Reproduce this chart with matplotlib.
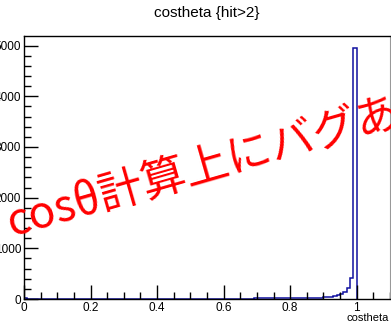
import matplotlib

matplotlib.use("Agg")
import matplotlib.pyplot as plt
from matplotlib.ticker import MultipleLocator

# histogram of costheta, 0.01 wide bins from 0 to 1
BIN_LEFT = 0.0
BIN_WIDTH = 0.01
COUNTS = [
    18, 4, 3, 3, 3, 3, 3, 2, 3, 3,
    3, 3, 3, 3, 3, 3, 3, 3, 3, 3,
    3, 3, 4, 3, 3, 4, 3, 4, 3, 4,
    4, 4, 4, 4, 4, 4, 4, 5, 4, 5,
    5, 5, 5, 5, 5, 5, 5, 6, 5, 6,
    6, 6, 6, 6, 6, 7, 6, 7, 7, 7,
    7, 7, 8, 8, 8, 8, 9, 9, 9, 10,
    10, 10, 11, 11, 12, 12, 13, 13, 14, 15,
    15, 16, 17, 18, 19, 20, 22, 24, 26, 28,
    32, 38, 45, 55, 75, 100, 145, 210, 420, 4950,
]
TITLE = "costheta {hit>2}"
XLABEL = "costheta"
NOTE = "cosθ計算上にバグあり"

plt.rcParams["font.family"] = ["Liberation Sans", "DejaVu Sans"]

fig = plt.figure(figsize=(3.91, 3.27), dpi=100)
ax = fig.add_axes([24 / 391, 28 / 327, 366 / 391, 263 / 327])

edges = [BIN_LEFT + BIN_WIDTH * i for i in range(len(COUNTS) + 1)]
ax.stairs(COUNTS, edges, color="#1010a0", linewidth=1.1)

ax.set_xlim(0, 1.1)
ax.set_ylim(0, 5190)
ax.xaxis.set_major_locator(MultipleLocator(0.2))
ax.xaxis.set_minor_locator(MultipleLocator(0.05))
ax.yaxis.set_major_locator(MultipleLocator(1000))
ax.yaxis.set_minor_locator(MultipleLocator(200))
ax.xaxis.set_major_formatter(plt.FuncFormatter(lambda v, p: "{:g}".format(round(v, 2))))
ax.tick_params(direction="in", which="major", length=10, width=1, labelsize=8.5, pad=2)
ax.tick_params(direction="in", which="minor", length=5, width=1)
for side in ["left", "bottom", "top"]:
    ax.spines[side].set_linewidth(1)
ax.spines["right"].set_color("#999999")

fig.text(207 / 391, 1 - 13 / 327, TITLE, ha="center", va="center", fontsize=11)
fig.text(389 / 391, 1 - 318 / 327, XLABEL, ha="right", va="center", fontsize=8)

fig.text(12 / 391, 1 - 236 / 327, NOTE, color="red", fontsize=32, rotation=16,
         rotation_mode="anchor", ha="left", va="baseline",
         family=["Noto Sans CJK JP", "DejaVu Sans"])

fig.savefig("out.png", dpi=100)
